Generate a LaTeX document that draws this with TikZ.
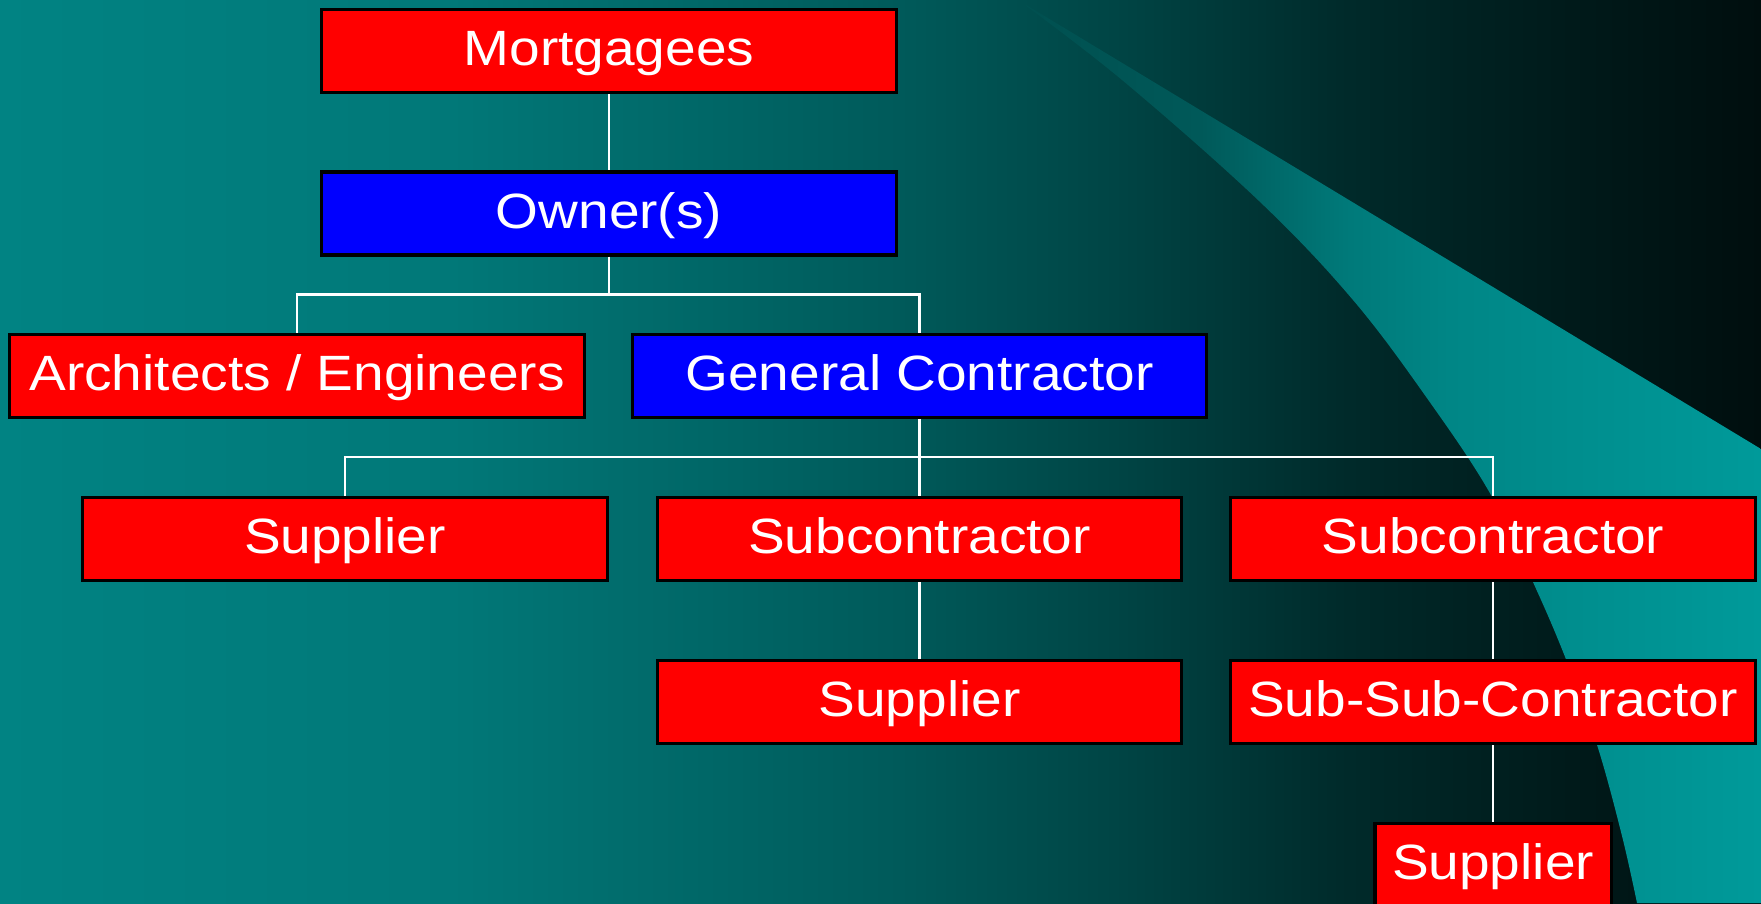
\documentclass[tikz,border=0pt]{standalone}
\usepackage{fontspec}
\newfontfamily\orgfont{Liberation Sans}[FakeStretch=1.11]

% background and swoosh colours
\definecolor{bgA}{HTML}{018383}
\definecolor{bgB}{HTML}{017878}
\definecolor{bgC}{HTML}{005A5A}
\definecolor{bgD}{HTML}{004444}
\definecolor{bgE}{HTML}{002A2A}
\definecolor{bgF}{HTML}{001A1A}
\definecolor{bgG}{HTML}{000E0E}
\definecolor{swA}{HTML}{004F4F}
\definecolor{swB}{HTML}{005959}
\definecolor{swC}{HTML}{007A7A}
\definecolor{swD}{HTML}{008686}
\definecolor{swE}{HTML}{009A9A}
\definecolor{boxred}{HTML}{FF0000}
\definecolor{boxblue}{HTML}{0000FF}

\pgfdeclarehorizontalshading{bgshade}{100bp}{%
  color(0bp)=(bgA); color(25bp)=(bgA); color(37.78bp)=(bgB);
  color(50.55bp)=(bgC); color(56.89bp)=(bgD); color(63.27bp)=(bgE);
  color(69.63bp)=(bgF); color(75bp)=(bgG); color(100bp)=(bgG)}
\pgfdeclarehorizontalshading{swooshshade}{100bp}{%
  color(0bp)=(swA); color(25bp)=(swA); color(37.35bp)=(swB);
  color(47.4bp)=(swC); color(54.13bp)=(swD); color(75bp)=(swE);
  color(100bp)=(swE)}

\tikzset{
  orgbox/.style={draw=black, line width=0.9pt, inner sep=0pt,
    minimum height=0.83cm, text=white, text height=10pt, text depth=1.6pt,
    font=\orgfont\fontsize{14.1pt}{17pt}\selectfont},
  widebox/.style={orgbox, minimum width=5.74cm},
  midbox/.style={orgbox, minimum width=5.24cm},
  smallbox/.style={orgbox, minimum width=2.36cm},
  redfill/.style={fill=boxred},
  bluefill/.style={fill=boxblue},
  link/.style={draw=white, line width=0.7pt}
}

\begin{document}
\begin{tikzpicture}[x=0.01cm, y=-0.01cm]
\useasboundingbox (0,0) rectangle (1761,903);

% backdrop: horizontal teal-to-black gradient
\shade[shading=bgshade] (0,0) rectangle (1761,903);

% lighter swoosh sweeping down the right side
\begin{scope}
  \clip plot[smooth, tension=0.6] coordinates {(1018,0) (1122,80) (1259,201)
      (1353,300) (1429,401) (1491,495) (1537,591) (1569,667) (1598,748)
      (1622,836) (1637,903)}
    -- (1761,903) -- (1761,449) -- cycle;
  \shade[shading=swooshshade] (1016,0) rectangle (1761,903);
\end{scope}

% organisation boxes
\node[widebox, redfill]  (mort)  at (609,51)     {Mortgagees};
\node[widebox, bluefill] (owner) at (609,213.5)  {Owner(s)};
\node[widebox, redfill]  (arch)  at (297,376)    {Architects / Engineers};
\node[widebox, bluefill] (gc)    at (919.5,376)  {General Contractor};
\node[midbox, redfill]   (sup1)  at (345,539)    {Supplier};
\node[midbox, redfill]   (sub1)  at (919.5,539)  {Subcontractor};
\node[midbox, redfill]   (sub2)  at (1493,539)   {Subcontractor};
\node[midbox, redfill]   (sup2)  at (919.5,702)  {Supplier};
\node[midbox, redfill]   (ssc)   at (1493,702)   {Sub-Sub-Contractor};
\node[smallbox, redfill] (sup3)  at (1493,865)   {Supplier};

% branch points of the elbow connectors
\coordinate (j1) at (609,294.5);
\coordinate (j2) at (919.5,457);

% connectors
\draw[link] (mort.south) -- (owner.north);
\draw[link] (owner.south) -- (j1) -| (arch.north);
\draw[link] (j1) -| (gc.north);
\draw[link] (gc.south) -- (j2) -| (sup1.north);
\draw[link] (j2) -- (sub1.north);
\draw[link] (j2) -| (sub2.north);
\draw[link] (sub1.south) -- (sup2.north);
\draw[link] (sub2.south) -- (ssc.north);
\draw[link] (ssc.south) -- (sup3.north);
\end{tikzpicture}
\end{document}
